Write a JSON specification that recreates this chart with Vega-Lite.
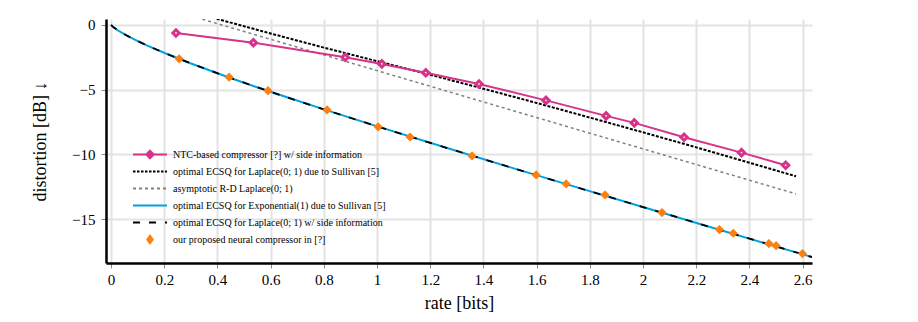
{
  "$schema": "https://vega.github.io/schema/vega-lite/v6.json",
  "width": 706,
  "height": 244,
  "autosize": {"type": "none"},
  "padding": {"left": 106, "top": 19, "right": 106, "bottom": 59},
  "background": "white",
  "config": {
    "view": {"stroke": null},
    "font": "Liberation Serif",
    "style": {
      "guide-label": {"font": "Liberation Serif"},
      "guide-title": {"font": "Liberation Serif"}
    },
    "axis": {
      "labelFont": "Liberation Serif",
      "titleFont": "Liberation Serif",
      "labelFontSize": 15,
      "titleFontSize": 18,
      "titleFontWeight": "normal",
      "labelColor": "#000",
      "titleColor": "#000",
      "domainColor": "#000",
      "domainWidth": 2.5,
      "tickColor": "#888",
      "tickWidth": 1,
      "tickSize": 5,
      "gridColor": "#e3e3e3",
      "gridWidth": 2,
      "labelPadding": 4
    }
  },
  "datasets": {
    "asym": [
      {"series": "asymptotic R-D Laplace(0; 1)", "rate": 0.3, "dist": 0.70},
      {"series": "asymptotic R-D Laplace(0; 1)", "rate": 0.5, "dist": -0.505},
      {"series": "asymptotic R-D Laplace(0; 1)", "rate": 1.0, "dist": -3.53},
      {"series": "asymptotic R-D Laplace(0; 1)", "rate": 1.5, "dist": -6.555},
      {"series": "asymptotic R-D Laplace(0; 1)", "rate": 2.0, "dist": -9.58},
      {"series": "asymptotic R-D Laplace(0; 1)", "rate": 2.575, "dist": -13.06}
    ],
    "ecsqLap": [
      {"series": "optimal ECSQ for Laplace(0; 1) due to Sullivan [5]", "rate": 0.3, "dist": 1.07},
      {"series": "optimal ECSQ for Laplace(0; 1) due to Sullivan [5]", "rate": 0.4, "dist": 0.46},
      {"series": "optimal ECSQ for Laplace(0; 1) due to Sullivan [5]", "rate": 0.5, "dist": -0.10},
      {"series": "optimal ECSQ for Laplace(0; 1) due to Sullivan [5]", "rate": 0.6, "dist": -0.66},
      {"series": "optimal ECSQ for Laplace(0; 1) due to Sullivan [5]", "rate": 0.8, "dist": -1.75},
      {"series": "optimal ECSQ for Laplace(0; 1) due to Sullivan [5]", "rate": 1.0, "dist": -2.80},
      {"series": "optimal ECSQ for Laplace(0; 1) due to Sullivan [5]", "rate": 1.2, "dist": -3.85},
      {"series": "optimal ECSQ for Laplace(0; 1) due to Sullivan [5]", "rate": 1.4, "dist": -4.93},
      {"series": "optimal ECSQ for Laplace(0; 1) due to Sullivan [5]", "rate": 1.6, "dist": -6.03},
      {"series": "optimal ECSQ for Laplace(0; 1) due to Sullivan [5]", "rate": 1.8, "dist": -7.16},
      {"series": "optimal ECSQ for Laplace(0; 1) due to Sullivan [5]", "rate": 2.0, "dist": -8.30},
      {"series": "optimal ECSQ for Laplace(0; 1) due to Sullivan [5]", "rate": 2.2, "dist": -9.46},
      {"series": "optimal ECSQ for Laplace(0; 1) due to Sullivan [5]", "rate": 2.4, "dist": -10.65},
      {"series": "optimal ECSQ for Laplace(0; 1) due to Sullivan [5]", "rate": 2.575, "dist": -11.70}
    ],
    "ecsqExp": [
      {"series": "optimal ECSQ for Exponential(1) due to Sullivan [5]", "rate": 0, "dist": 0},
      {"series": "optimal ECSQ for Exponential(1) due to Sullivan [5]", "rate": 0.004357, "dist": -0.094},
      {"series": "optimal ECSQ for Exponential(1) due to Sullivan [5]", "rate": 0.010535, "dist": -0.199},
      {"series": "optimal ECSQ for Exponential(1) due to Sullivan [5]", "rate": 0.02509, "dist": -0.408},
      {"series": "optimal ECSQ for Exponential(1) due to Sullivan [5]", "rate": 0.03847, "dist": -0.578},
      {"series": "optimal ECSQ for Exponential(1) due to Sullivan [5]", "rate": 0.05869, "dist": -0.813},
      {"series": "optimal ECSQ for Exponential(1) due to Sullivan [5]", "rate": 0.08905, "dist": -1.135},
      {"series": "optimal ECSQ for Exponential(1) due to Sullivan [5]", "rate": 0.13434, "dist": -1.574},
      {"series": "optimal ECSQ for Exponential(1) due to Sullivan [5]", "rate": 0.20147, "dist": -2.170},
      {"series": "optimal ECSQ for Exponential(1) due to Sullivan [5]", "rate": 0.30045, "dist": -2.978},
      {"series": "optimal ECSQ for Exponential(1) due to Sullivan [5]", "rate": 0.4461, "dist": -4.077},
      {"series": "optimal ECSQ for Exponential(1) due to Sullivan [5]", "rate": 0.54312, "dist": -4.772},
      {"series": "optimal ECSQ for Exponential(1) due to Sullivan [5]", "rate": 0.6614, "dist": -5.592},
      {"series": "optimal ECSQ for Exponential(1) due to Sullivan [5]", "rate": 0.8064, "dist": -6.568},
      {"series": "optimal ECSQ for Exponential(1) due to Sullivan [5]", "rate": 0.98581, "dist": -7.743},
      {"series": "optimal ECSQ for Exponential(1) due to Sullivan [5]", "rate": 1.26325, "dist": -9.514},
      {"series": "optimal ECSQ for Exponential(1) due to Sullivan [5]", "rate": 1.50135, "dist": -11.006},
      {"series": "optimal ECSQ for Exponential(1) due to Sullivan [5]", "rate": 1.8025, "dist": -12.867},
      {"series": "optimal ECSQ for Exponential(1) due to Sullivan [5]", "rate": 1.9864, "dist": -13.995},
      {"series": "optimal ECSQ for Exponential(1) due to Sullivan [5]", "rate": 2.2011, "dist": -15.306},
      {"series": "optimal ECSQ for Exponential(1) due to Sullivan [5]", "rate": 2.4576, "dist": -16.867},
      {"series": "optimal ECSQ for Exponential(1) due to Sullivan [5]", "rate": 2.6068, "dist": -17.77},
      {"series": "optimal ECSQ for Exponential(1) due to Sullivan [5]", "rate": 2.774, "dist": -18.78}
    ],
    "sideInfo": [
      {"series": "optimal ECSQ for Laplace(0; 1) w/ side information", "rate": 0, "dist": 0},
      {"series": "optimal ECSQ for Laplace(0; 1) w/ side information", "rate": 0.004357, "dist": -0.094},
      {"series": "optimal ECSQ for Laplace(0; 1) w/ side information", "rate": 0.010535, "dist": -0.199},
      {"series": "optimal ECSQ for Laplace(0; 1) w/ side information", "rate": 0.02509, "dist": -0.408},
      {"series": "optimal ECSQ for Laplace(0; 1) w/ side information", "rate": 0.03847, "dist": -0.578},
      {"series": "optimal ECSQ for Laplace(0; 1) w/ side information", "rate": 0.05869, "dist": -0.813},
      {"series": "optimal ECSQ for Laplace(0; 1) w/ side information", "rate": 0.08905, "dist": -1.135},
      {"series": "optimal ECSQ for Laplace(0; 1) w/ side information", "rate": 0.13434, "dist": -1.574},
      {"series": "optimal ECSQ for Laplace(0; 1) w/ side information", "rate": 0.20147, "dist": -2.170},
      {"series": "optimal ECSQ for Laplace(0; 1) w/ side information", "rate": 0.30045, "dist": -2.978},
      {"series": "optimal ECSQ for Laplace(0; 1) w/ side information", "rate": 0.4461, "dist": -4.077},
      {"series": "optimal ECSQ for Laplace(0; 1) w/ side information", "rate": 0.54312, "dist": -4.772},
      {"series": "optimal ECSQ for Laplace(0; 1) w/ side information", "rate": 0.6614, "dist": -5.592},
      {"series": "optimal ECSQ for Laplace(0; 1) w/ side information", "rate": 0.8064, "dist": -6.568},
      {"series": "optimal ECSQ for Laplace(0; 1) w/ side information", "rate": 0.98581, "dist": -7.743},
      {"series": "optimal ECSQ for Laplace(0; 1) w/ side information", "rate": 1.26325, "dist": -9.514},
      {"series": "optimal ECSQ for Laplace(0; 1) w/ side information", "rate": 1.50135, "dist": -11.006},
      {"series": "optimal ECSQ for Laplace(0; 1) w/ side information", "rate": 1.8025, "dist": -12.867},
      {"series": "optimal ECSQ for Laplace(0; 1) w/ side information", "rate": 1.9864, "dist": -13.995},
      {"series": "optimal ECSQ for Laplace(0; 1) w/ side information", "rate": 2.2011, "dist": -15.306},
      {"series": "optimal ECSQ for Laplace(0; 1) w/ side information", "rate": 2.4576, "dist": -16.867},
      {"series": "optimal ECSQ for Laplace(0; 1) w/ side information", "rate": 2.6068, "dist": -17.77},
      {"series": "optimal ECSQ for Laplace(0; 1) w/ side information", "rate": 2.774, "dist": -18.78}
    ],
    "ntc": [
      {"series": "NTC-based compressor [?] w/ side information", "rate": 0.244, "dist": -0.62},
      {"series": "NTC-based compressor [?] w/ side information", "rate": 0.535, "dist": -1.37},
      {"series": "NTC-based compressor [?] w/ side information", "rate": 0.88, "dist": -2.50},
      {"series": "NTC-based compressor [?] w/ side information", "rate": 1.018, "dist": -3.01},
      {"series": "NTC-based compressor [?] w/ side information", "rate": 1.183, "dist": -3.69},
      {"series": "NTC-based compressor [?] w/ side information", "rate": 1.383, "dist": -4.56},
      {"series": "NTC-based compressor [?] w/ side information", "rate": 1.635, "dist": -5.83},
      {"series": "NTC-based compressor [?] w/ side information", "rate": 1.861, "dist": -7.03},
      {"series": "NTC-based compressor [?] w/ side information", "rate": 1.967, "dist": -7.57},
      {"series": "NTC-based compressor [?] w/ side information", "rate": 2.154, "dist": -8.68},
      {"series": "NTC-based compressor [?] w/ side information", "rate": 2.37, "dist": -9.87},
      {"series": "NTC-based compressor [?] w/ side information", "rate": 2.536, "dist": -10.84}
    ],
    "ours": [
      {"series": "our proposed neural compressor in [?]", "rate": 0.256, "dist": -2.62},
      {"series": "our proposed neural compressor in [?]", "rate": 0.444, "dist": -4.04},
      {"series": "our proposed neural compressor in [?]", "rate": 0.59, "dist": -5.08},
      {"series": "our proposed neural compressor in [?]", "rate": 0.812, "dist": -6.57},
      {"series": "our proposed neural compressor in [?]", "rate": 1.004, "dist": -7.87},
      {"series": "our proposed neural compressor in [?]", "rate": 1.124, "dist": -8.66},
      {"series": "our proposed neural compressor in [?]", "rate": 1.357, "dist": -10.12},
      {"series": "our proposed neural compressor in [?]", "rate": 1.598, "dist": -11.59},
      {"series": "our proposed neural compressor in [?]", "rate": 1.711, "dist": -12.29},
      {"series": "our proposed neural compressor in [?]", "rate": 1.857, "dist": -13.14},
      {"series": "our proposed neural compressor in [?]", "rate": 2.071, "dist": -14.5},
      {"series": "our proposed neural compressor in [?]", "rate": 2.287, "dist": -15.82},
      {"series": "our proposed neural compressor in [?]", "rate": 2.339, "dist": -16.1},
      {"series": "our proposed neural compressor in [?]", "rate": 2.473, "dist": -16.9},
      {"series": "our proposed neural compressor in [?]", "rate": 2.5, "dist": -17.06},
      {"series": "our proposed neural compressor in [?]", "rate": 2.599, "dist": -17.67}
    ]
  },
  "encoding": {
    "x": {
      "field": "rate",
      "type": "quantitative",
      "scale": {"domain": [-0.019, 2.635], "nice": false, "zero": false},
      "axis": {
        "title": "rate [bits]",
        "values": [0, 0.2, 0.4, 0.6, 0.8, 1, 1.2, 1.4, 1.6, 1.8, 2, 2.2, 2.4, 2.6],
        "format": "~g",
        "grid": true,
        "labelFont": "Liberation Serif",
        "titleFont": "Liberation Serif",
        "titlePadding": 7
      }
    },
    "y": {
      "field": "dist",
      "type": "quantitative",
      "scale": {"domain": [-18.4, 0.46], "nice": false, "zero": false},
      "axis": {
        "title": "distortion [dB] ↓",
        "values": [0, -5, -10, -15],
        "format": "~g",
        "grid": true,
        "labelFont": "Liberation Serif",
        "titleFont": "Liberation Serif",
        "labelPadding": 6,
        "titlePadding": 22
      }
    }
  },
  "layer": [
    {
      "data": {"name": "asym"},
      "mark": {"type": "line", "clip": true, "strokeWidth": 1.5, "strokeDash": [3, 3]},
      "encoding": {
        "color": {
          "field": "series",
          "type": "nominal",
          "scale": {
            "domain": [
              "NTC-based compressor [?] w/ side information",
              "optimal ECSQ for Laplace(0; 1) due to Sullivan [5]",
              "asymptotic R-D Laplace(0; 1)",
              "optimal ECSQ for Exponential(1) due to Sullivan [5]",
              "optimal ECSQ for Laplace(0; 1) w/ side information",
              "our proposed neural compressor in [?]"
            ],
            "range": ["#d6338a", "#000000", "#808080", "#00a0e3", "#000000", "#ff7f0e"]
          },
          "legend": {
            "title": null,
            "orient": "none",
            "legendX": 26,
            "legendY": 127,
            "padding": 0,
            "direction": "vertical",
            "columns": 1,
            "labelFont": "Liberation Serif",
            "labelFontSize": 10,
            "labelColor": "#000",
            "labelLimit": 400,
            "labelOffset": 5,
            "symbolSize": 1156,
            "symbolStrokeWidth": 2,
            "clipHeight": 17,
            "rowPadding": 0,
            "encode": {
              "symbols": {
                "update": {
                  "shape": {"signal": "['M-1,0H-0.22M0.22,0H1M0,-0.22L0.22,0L0,0.22L-0.22,0Z','M-1,0H1','M-1,0H1','M-1,0H1','M-1,0H1','M0,-0.22L0.16,0L0,0.22L-0.16,0Z'][datum.index]"},
                  "stroke": {"signal": "['#d6338a','#000000','#808080','#00a0e3','#000000','#ff7f0e'][datum.index]"},
                  "fill": {"signal": "['#ffffff','transparent','transparent','transparent','transparent','#ff7f0e'][datum.index]"},
                  "strokeDash": {"signal": "[[],[2.5,1.5],[3,3],[],[7,9],[]][datum.index]"},
                  "opacity": {"value": 1}
                }
              }
            }
          }
        }
      }
    },
    {
      "data": {"name": "ecsqLap"},
      "mark": {"type": "line", "clip": true, "strokeWidth": 2, "strokeDash": [3, 1.5]},
      "encoding": {"color": {"field": "series", "type": "nominal"}}
    },
    {
      "data": {"name": "ecsqExp"},
      "mark": {"type": "line", "clip": true, "strokeWidth": 2},
      "encoding": {"color": {"field": "series", "type": "nominal"}}
    },
    {
      "data": {"name": "sideInfo"},
      "mark": {"type": "line", "clip": true, "strokeWidth": 1.8, "strokeDash": [7, 9]},
      "encoding": {"color": {"field": "series", "type": "nominal"}}
    },
    {
      "data": {"name": "ntc"},
      "mark": {"type": "line", "clip": true, "strokeWidth": 2},
      "encoding": {"color": {"field": "series", "type": "nominal"}}
    },
    {
      "data": {"name": "ntc"},
      "mark": {"type": "point", "shape": "diamond", "size": 40, "filled": false, "strokeWidth": 3, "opacity": 1},
      "encoding": {
        "fill": {"value": "#ffffff"},
        "stroke": {"value": "#d6338a"}
      }
    },
    {
      "data": {"name": "ours"},
      "mark": {"type": "point", "shape": "diamond", "size": 85, "filled": true, "opacity": 1},
      "encoding": {"color": {"field": "series", "type": "nominal"}}
    }
  ]
}
